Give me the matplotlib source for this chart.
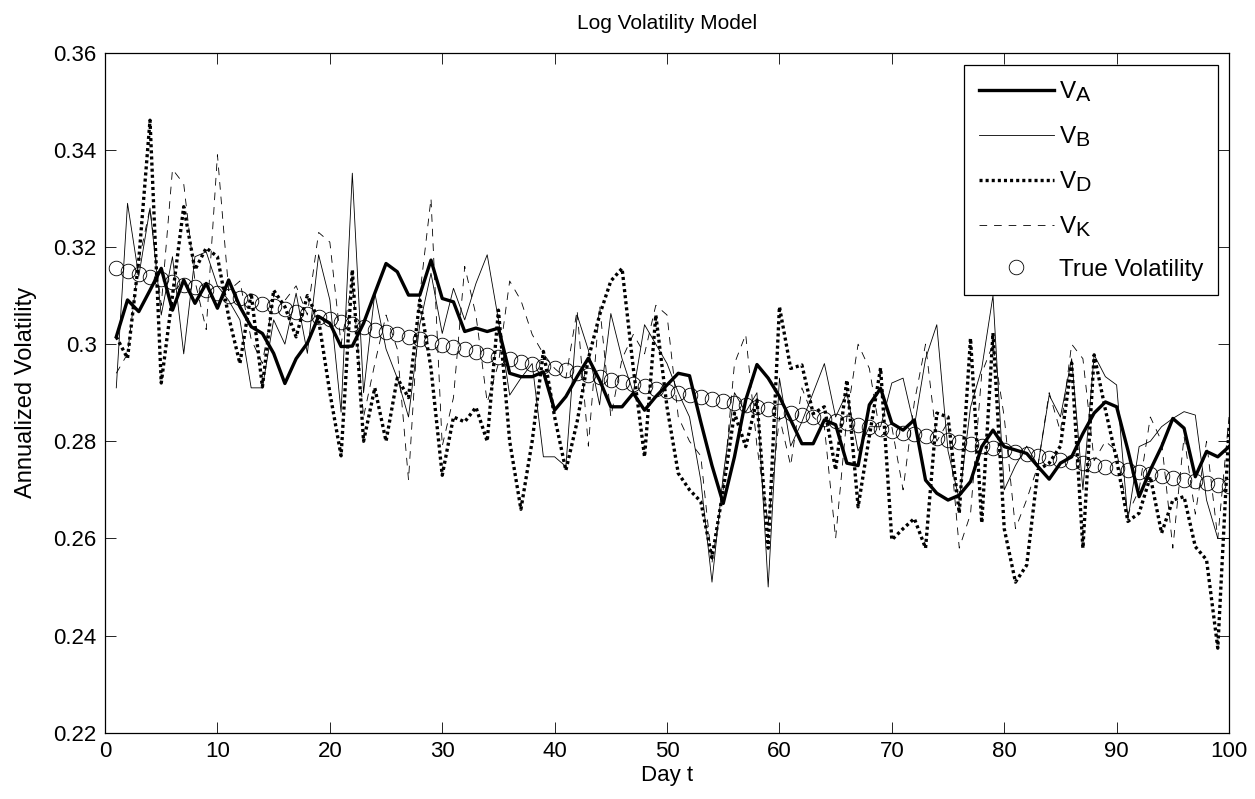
import numpy as np
import matplotlib
matplotlib.use("Agg")
import matplotlib.pyplot as plt
import matplotlib._mathtext as mt

plt.rcParams['font.family'] = ['Liberation Sans', 'DejaVu Sans']
plt.rcParams['mathtext.default'] = 'regular'
plt.rcParams['lines.scale_dashes'] = False
# bigger subscripts, closer to the old matlab look
mt.SHRINK_FACTOR = 0.88

days = np.arange(1, 101)

# thick solid
v_a = [0.3015, 0.3091, 0.3067, 0.3111, 0.3156, 0.3070, 0.3132, 0.3084, 0.3125, 0.3074,
       0.3132, 0.3077, 0.3036, 0.3022, 0.2981, 0.2919, 0.2970, 0.3002, 0.3057, 0.3043,
       0.2995, 0.2996, 0.3043, 0.3105, 0.3166, 0.3149, 0.3101, 0.3101, 0.3173, 0.3094,
       0.3087, 0.3026, 0.3033, 0.3026, 0.3033, 0.2940, 0.2933, 0.2933, 0.2943, 0.2864,
       0.2892, 0.2933, 0.2971, 0.2926, 0.2871, 0.2871, 0.2899, 0.2864, 0.2892, 0.2916,
       0.2940, 0.2935, 0.2840, 0.2750, 0.2672, 0.2768, 0.2885, 0.2958, 0.2930, 0.2892,
       0.2844, 0.2795, 0.2795, 0.2844, 0.2834, 0.2755, 0.2750, 0.2875, 0.2909, 0.2837,
       0.2823, 0.2844, 0.2720, 0.2693, 0.2679, 0.2689, 0.2717, 0.2789, 0.2823, 0.2789,
       0.2782, 0.2775, 0.2748, 0.2722, 0.2755, 0.2768, 0.2816, 0.2858, 0.2881, 0.2871,
       0.2782, 0.2686, 0.2741, 0.2789, 0.2847, 0.2827, 0.2727, 0.2779, 0.2768, 0.2789]

# thin solid
v_b = [0.2910, 0.3290, 0.3140, 0.3280, 0.3060, 0.3180, 0.2980, 0.3180, 0.3190, 0.3120,
       0.3090, 0.3050, 0.2910, 0.2910, 0.3050, 0.3000, 0.3105, 0.2981, 0.3184, 0.3091,
       0.2860, 0.3352, 0.2900, 0.3105, 0.2990, 0.2930, 0.2850, 0.3040, 0.3146, 0.3022,
       0.3115, 0.3050, 0.3125, 0.3184, 0.3050, 0.2895, 0.2930, 0.2960, 0.2768, 0.2768,
       0.2748, 0.3060, 0.2988, 0.2875, 0.3063, 0.2970, 0.2900, 0.3040, 0.3000, 0.2960,
       0.2900, 0.2850, 0.2720, 0.2510, 0.2730, 0.2900, 0.2860, 0.2900, 0.2500, 0.2930,
       0.2790, 0.2840, 0.2900, 0.2960, 0.2850, 0.2900, 0.2780, 0.2830, 0.2830, 0.2920,
       0.2930, 0.2830, 0.2970, 0.3040, 0.2780, 0.2680, 0.2870, 0.2950, 0.3100, 0.2700,
       0.2750, 0.2790, 0.2750, 0.2895, 0.2850, 0.2970, 0.2700, 0.2978, 0.2933, 0.2916,
       0.2638, 0.2789, 0.2800, 0.2830, 0.2847, 0.2861, 0.2854, 0.2679, 0.2600, 0.2600]

# thick dotted
v_d = [0.3015, 0.2971, 0.3173, 0.3461, 0.2920, 0.3100, 0.3283, 0.3153, 0.3198, 0.3180,
       0.3056, 0.2960, 0.3105, 0.2912, 0.3111, 0.3077, 0.3015, 0.3100, 0.3050, 0.2900,
       0.2770, 0.3153, 0.2800, 0.2910, 0.2800, 0.2930, 0.2890, 0.3091, 0.2950, 0.2730,
       0.2850, 0.2840, 0.2870, 0.2800, 0.3070, 0.2800, 0.2660, 0.2800, 0.2985, 0.2850,
       0.2740, 0.2840, 0.2970, 0.3060, 0.3130, 0.3156, 0.2950, 0.2768, 0.3060, 0.2870,
       0.2734, 0.2700, 0.2676, 0.2560, 0.2700, 0.2858, 0.2789, 0.2885, 0.2580, 0.3077,
       0.2950, 0.2957, 0.2857, 0.2871, 0.2741, 0.2926, 0.2665, 0.2810, 0.2951, 0.2597,
       0.2620, 0.2641, 0.2580, 0.2858, 0.2850, 0.2652, 0.3012, 0.2632, 0.3023, 0.2620,
       0.2510, 0.2545, 0.2741, 0.2755, 0.2790, 0.2961, 0.2580, 0.2978, 0.2865, 0.2762,
       0.2635, 0.2652, 0.2727, 0.2611, 0.2679, 0.2686, 0.2583, 0.2556, 0.2374, 0.2830]

# thin dashed
v_k = [0.2940, 0.2980, 0.3170, 0.3280, 0.3080, 0.3360, 0.3330, 0.3130, 0.3030, 0.3390,
       0.3110, 0.3130, 0.3010, 0.2960, 0.3100, 0.3090, 0.3120, 0.3060, 0.3230, 0.3210,
       0.3000, 0.3130, 0.2850, 0.2960, 0.3060, 0.2990, 0.2720, 0.3100, 0.3300, 0.2790,
       0.2890, 0.3160, 0.3060, 0.2880, 0.2960, 0.3130, 0.3090, 0.3020, 0.2980, 0.2950,
       0.2930, 0.3070, 0.2790, 0.3080, 0.2850, 0.2970, 0.3020, 0.2980, 0.3080, 0.3060,
       0.2850, 0.2800, 0.2770, 0.2550, 0.2700, 0.2960, 0.3020, 0.2790, 0.2630, 0.2850,
       0.2750, 0.2910, 0.2850, 0.2830, 0.2600, 0.2850, 0.3000, 0.2950, 0.2810, 0.2830,
       0.2700, 0.2880, 0.3000, 0.2800, 0.2840, 0.2580, 0.2650, 0.2940, 0.3000, 0.2850,
       0.2620, 0.2680, 0.2750, 0.2900, 0.2820, 0.3000, 0.2970, 0.2760, 0.2800, 0.2780,
       0.2650, 0.2700, 0.2850, 0.2800, 0.2580, 0.2810, 0.2650, 0.2800, 0.2600, 0.2850]

# circles
true_vol = [0.3156, 0.3150, 0.3145, 0.3139, 0.3134, 0.3128, 0.3122, 0.3117, 0.3111, 0.3106,
            0.3100, 0.3094, 0.3089, 0.3083, 0.3078, 0.3072, 0.3067, 0.3062, 0.3056, 0.3051,
            0.3046, 0.3041, 0.3036, 0.3030, 0.3025, 0.3020, 0.3015, 0.3010, 0.3004, 0.2999,
            0.2994, 0.2989, 0.2984, 0.2978, 0.2973, 0.2969, 0.2964, 0.2959, 0.2955, 0.2950,
            0.2946, 0.2941, 0.2936, 0.2932, 0.2927, 0.2922, 0.2918, 0.2913, 0.2908, 0.2904,
            0.2899, 0.2895, 0.2891, 0.2887, 0.2883, 0.2879, 0.2875, 0.2871, 0.2867, 0.2863,
            0.2859, 0.2855, 0.2850, 0.2846, 0.2842, 0.2838, 0.2834, 0.2830, 0.2826, 0.2822,
            0.2818, 0.2814, 0.2810, 0.2806, 0.2802, 0.2798, 0.2794, 0.2790, 0.2786, 0.2782,
            0.2778, 0.2774, 0.2770, 0.2766, 0.2762, 0.2758, 0.2755, 0.2751, 0.2747, 0.2744,
            0.2740, 0.2736, 0.2733, 0.2729, 0.2725, 0.2721, 0.2718, 0.2714, 0.2711, 0.2707]

fig = plt.figure(figsize=(12.55, 7.99), dpi=100)
ax = fig.add_axes([0.0837, 0.083, 0.8956, 0.851])

ax.plot(days, v_a, color='k', lw=2.4, label='$V_A$')
ax.plot(days, v_b, color='k', lw=0.6, label='$V_B$')
ax.plot(days, v_d, color='k', lw=2.4, linestyle=(0, (2.2, 2.2)),
        dash_capstyle='butt', label='$V_D$')
ax.plot(days, v_k, color='k', lw=0.6, linestyle=(0, (5.5, 5)), label='$V_K$')
ax.plot(days, true_vol, linestyle='none', marker='o', ms=10.5, mfc='none',
        mec='k', mew=0.6, label='True Volatility')

ax.set_xlim(0, 100)
ax.set_ylim(0.22, 0.36)
ax.set_xticks(np.arange(0, 101, 10))
ax.set_yticks(np.arange(0.22, 0.3601, 0.02))
ax.set_yticklabels(['0.22', '0.24', '0.26', '0.28', '0.3', '0.32', '0.34', '0.36'])
ax.tick_params(direction='in', length=8, width=0.6, top=True, right=True,
               labelsize=16, pad=6)
for s in ax.spines.values():
    s.set_linewidth(0.9)

ax.set_title('Log Volatility Model', fontsize=15, pad=17)
ax.set_xlabel('Day t', fontsize=16, labelpad=2)
ax.set_ylabel('Annualized Volatility', fontsize=17, labelpad=12)

leg = ax.legend(loc='upper right', bbox_to_anchor=(0.990, 0.982), fontsize=17.5,
                handlelength=3.1, labelspacing=0.82, borderpad=0.6,
                handletextpad=0.2, fancybox=False, framealpha=1,
                edgecolor='k', borderaxespad=0)
leg.get_frame().set_linewidth(0.9)

fig.savefig('out.png', dpi=100)
